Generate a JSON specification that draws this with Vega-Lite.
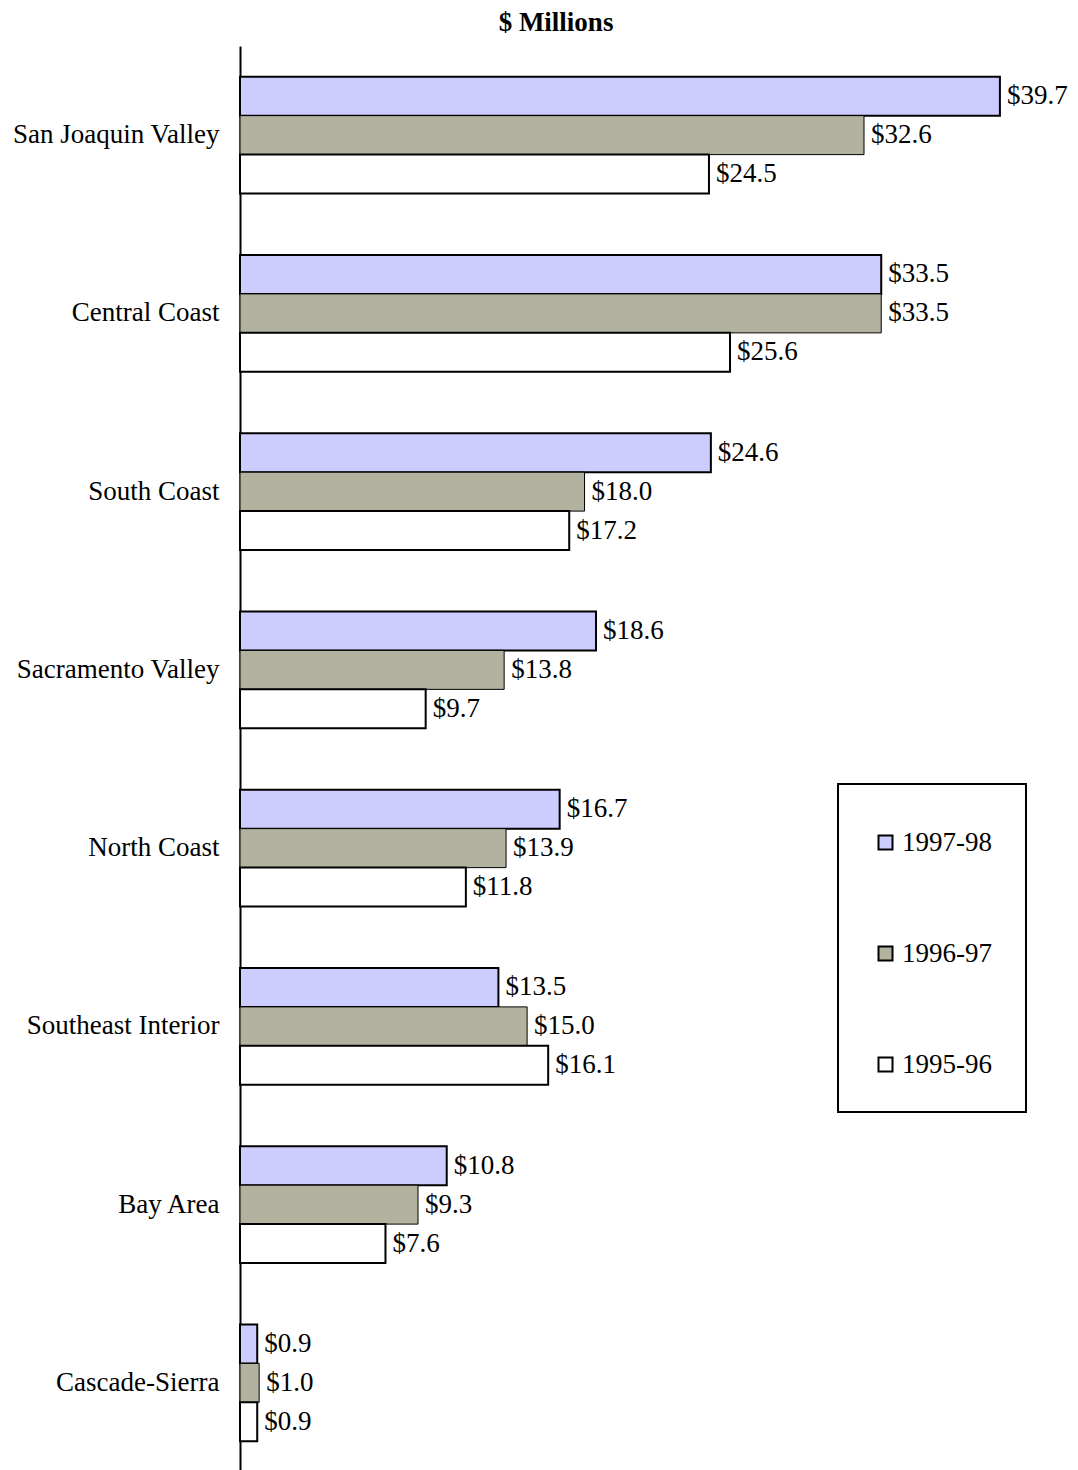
{
  "$schema": "https://vega.github.io/schema/vega-lite/v6.json",
  "width": 838,
  "height": 1426,
  "autosize": "none",
  "padding": {"left": 240, "top": 46, "right": 0, "bottom": 0},
  "background": "white",
  "title": {
    "text": "$ Millions",
    "font": "Liberation Serif",
    "fontSize": 27,
    "fontWeight": "bold",
    "color": "black",
    "anchor": "middle",
    "frame": "group",
    "dx": -103,
    "dy": 32,
    "baseline": "bottom",
    "offset": 14
  },
  "data": {
    "values": [
      {"region": "San Joaquin Valley", "year": "1997-98", "value": 39.7},
      {"region": "San Joaquin Valley", "year": "1996-97", "value": 32.6},
      {"region": "San Joaquin Valley", "year": "1995-96", "value": 24.5},
      {"region": "Central Coast", "year": "1997-98", "value": 33.5},
      {"region": "Central Coast", "year": "1996-97", "value": 33.5},
      {"region": "Central Coast", "year": "1995-96", "value": 25.6},
      {"region": "South Coast", "year": "1997-98", "value": 24.6},
      {"region": "South Coast", "year": "1996-97", "value": 18.0},
      {"region": "South Coast", "year": "1995-96", "value": 17.2},
      {"region": "Sacramento Valley", "year": "1997-98", "value": 18.6},
      {"region": "Sacramento Valley", "year": "1996-97", "value": 13.8},
      {"region": "Sacramento Valley", "year": "1995-96", "value": 9.7},
      {"region": "North Coast", "year": "1997-98", "value": 16.7},
      {"region": "North Coast", "year": "1996-97", "value": 13.9},
      {"region": "North Coast", "year": "1995-96", "value": 11.8},
      {"region": "Southeast Interior", "year": "1997-98", "value": 13.5},
      {"region": "Southeast Interior", "year": "1996-97", "value": 15.0},
      {"region": "Southeast Interior", "year": "1995-96", "value": 16.1},
      {"region": "Bay Area", "year": "1997-98", "value": 10.8},
      {"region": "Bay Area", "year": "1996-97", "value": 9.3},
      {"region": "Bay Area", "year": "1995-96", "value": 7.6},
      {"region": "Cascade-Sierra", "year": "1997-98", "value": 0.9},
      {"region": "Cascade-Sierra", "year": "1996-97", "value": 1.0},
      {"region": "Cascade-Sierra", "year": "1995-96", "value": 0.9}
    ]
  },
  "encoding": {
    "y": {
      "field": "region",
      "type": "nominal",
      "sort": null,
      "title": null,
      "scale": {"paddingInner": 0.344, "paddingOuter": 0.172},
      "axis": {
        "domainColor": "black",
        "domainWidth": 2,
        "ticks": false,
        "labelPadding": 21,
        "labelFont": "Liberation Serif",
        "labelFontSize": 27,
        "labelColor": "black",
        "labelLimit": 300
      }
    },
    "yOffset": {
      "field": "year",
      "type": "nominal",
      "scale": {"domain": ["1997-98", "1996-97", "1995-96"], "paddingInner": 0, "paddingOuter": 0}
    },
    "x": {
      "field": "value",
      "type": "quantitative",
      "scale": {"domain": [0, 43.78], "nice": false, "zero": true},
      "axis": null
    }
  },
  "layer": [
    {
      "mark": {"type": "bar", "stroke": "black"},
      "encoding": {
        "strokeWidth": {"condition": {"test": "datum.year === '1996-97'", "value": 1}, "value": 2},
        "fill": {
          "field": "year",
          "type": "nominal",
          "scale": {"domain": ["1997-98", "1996-97", "1995-96"], "range": ["#CCCCFF", "#B2B29F", "#FFFFFF"]},
          "legend": {
            "title": " ",
            "titleFontSize": 11,
            "titlePadding": 0,
            "orient": "none",
            "legendX": 598,
            "legendY": 738,
            "padding": 34,
            "rowPadding": 83,
            "strokeColor": "black",
            "fillColor": "white",
            "symbolType": "square",
            "symbolSize": 196,
            "symbolStrokeColor": "black",
            "symbolStrokeWidth": 2,
            "symbolOpacity": 1,
            "labelFont": "Liberation Serif",
            "labelFontSize": 27,
            "labelColor": "black",
            "labelOffset": 3,
            "offset": 0,
            "encode": {
              "legend": {"update": {"strokeWidth": {"value": 2}}}
            }
          }
        }
      }
    },
    {
      "mark": {"type": "text", "align": "left", "baseline": "middle", "dx": 7, "font": "Liberation Serif", "fontSize": 27, "color": "black"},
      "encoding": {
        "text": {"field": "value", "type": "quantitative", "format": "$.1f"}
      }
    }
  ],
  "config": {
    "view": {"stroke": null}
  }
}
